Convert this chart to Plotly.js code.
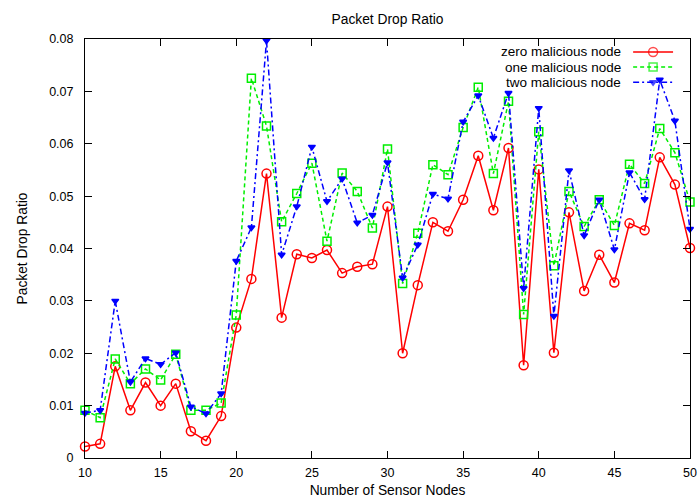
<!DOCTYPE html>
<html>
<head>
<meta charset="utf-8">
<script src="https://cdn.plot.ly/plotly-3.0.1.min.js"></script>
<style>
  html, body { margin: 0; padding: 0; background: #fff; }
  #chart { width: 700px; height: 501px; }
</style>
</head>
<body>
<div id="chart"></div>
<script>
// Number of sensor nodes on the x axis
const nodes = [10, 11, 12, 13, 14, 15, 16, 17, 18, 19, 20, 21, 22, 23, 24, 25, 26, 27, 28, 29, 30,
               31, 32, 33, 34, 35, 36, 37, 38, 39, 40, 41, 42, 43, 44, 45, 46, 47, 48, 49, 50];

// Packet drop ratio, no malicious node
const zeroMalicious = [0.0022, 0.0027, 0.0175, 0.0091, 0.0144, 0.0100, 0.0142, 0.0051, 0.0033, 0.0080, 0.0249,
                       0.0342, 0.0543, 0.0268, 0.0389, 0.0382, 0.0397, 0.0353, 0.0365, 0.0370, 0.0480,
                       0.0200, 0.0330, 0.0450, 0.0433, 0.0493, 0.0577, 0.0473, 0.0592, 0.0177, 0.0551,
                       0.0201, 0.0469, 0.0319, 0.0388, 0.0335, 0.0448, 0.0435, 0.0574, 0.0522, 0.0401];

// Packet drop ratio, one malicious node
const oneMalicious = [0.0091, 0.0077, 0.0189, 0.0142, 0.0170, 0.0149, 0.0198, 0.0091, 0.0091, 0.0105, 0.0273,
                      0.0725, 0.0634, 0.0451, 0.0505, 0.0563, 0.0414, 0.0544, 0.0509, 0.0439, 0.0590,
                      0.0333, 0.0429, 0.0560, 0.0541, 0.0631, 0.0708, 0.0543, 0.0681, 0.0274, 0.0623,
                      0.0367, 0.0509, 0.0442, 0.0493, 0.0444, 0.0561, 0.0524, 0.0629, 0.0583, 0.0489];

// Packet drop ratio, two malicious nodes
const twoMalicious = [0.0086, 0.0091, 0.0300, 0.0145, 0.0190, 0.0179, 0.0201, 0.0098, 0.0085, 0.0123, 0.0376,
                      0.0440, 0.0797, 0.0388, 0.0480, 0.0594, 0.0490, 0.0533, 0.0449, 0.0464, 0.0564,
                      0.0344, 0.0407, 0.0504, 0.0495, 0.0642, 0.0692, 0.0611, 0.0697, 0.0324, 0.0668,
                      0.0271, 0.0549, 0.0425, 0.0493, 0.0398, 0.0545, 0.0494, 0.0722, 0.0644, 0.0437];

const seriesNames = ['zero malicious node', 'one malicious node', 'two malicious node'];

const FONT = 'Liberation Sans, Arial, Helvetica, sans-serif';

const styles = [
  { color: '#ff0000', dash: 'solid',   symbol: 'circle-open',   size: 9 },
  { color: '#00ee00', dash: '4px,3px', symbol: 'square-open',   size: 8 },
  { color: '#0000ff', dash: '6px,3px,2px,3px', symbol: 'triangle-down', size: 6 }
];

const seriesData = [zeroMalicious, oneMalicious, twoMalicious];

const traces = seriesData.map((vals, i) => ({
  type: 'scatter',
  mode: 'lines+markers',
  x: nodes,
  y: vals,
  name: seriesNames[i],
  line: { color: styles[i].color, width: 1.5, dash: styles[i].dash },
  marker: { color: styles[i].color, symbol: styles[i].symbol, size: styles[i].size,
            line: { color: styles[i].color, width: 1.5 } },
  cliponaxis: false,
  showlegend: false
}));

// Key samples (line with a marker in the middle) on a hidden unit overlay axis
const keyRows = [0.969, 0.933, 0.897];
const keyX = [0.906, 0.939, 0.972];
keyRows.forEach((yy, i) => {
  traces.push({
    type: 'scatter',
    mode: 'lines+markers',
    x: keyX,
    y: [yy, yy, yy],
    xaxis: 'x2',
    yaxis: 'y2',
    line: { color: styles[i].color, width: 1.5, dash: styles[i].dash },
    marker: { color: styles[i].color, symbol: styles[i].symbol, size: [0, styles[i].size, 0],
              line: { color: styles[i].color, width: 1.5 } },
    hoverinfo: 'skip',
    showlegend: false
  });
});

const annotations = seriesNames.map((name, i) => ({
  xref: 'paper', yref: 'paper',
  x: 0.889, y: keyRows[i],
  xanchor: 'right', yanchor: 'middle',
  text: name,
  showarrow: false,
  font: { family: FONT, size: 13.5, color: '#000' }
}));

const layout = {
  width: 700,
  height: 501,
  margin: { l: 85, r: 10, t: 39, b: 43 },
  paper_bgcolor: '#fff',
  plot_bgcolor: '#fff',
  font: { family: FONT, size: 12, color: '#000' },
  showlegend: false,
  title: {
    text: 'Packet Drop Ratio',
    x: 0.5, xref: 'paper', xanchor: 'center',
    y: 0.962, yref: 'container', yanchor: 'middle',
    font: { family: FONT, size: 13.8, color: '#000' }
  },
  xaxis: {
    range: [10, 50],
    tickvals: [10, 15, 20, 25, 30, 35, 40, 45, 50],
    ticks: 'inside', ticklen: 7, tickcolor: '#000', tickwidth: 1,
    showline: true, linecolor: '#000', linewidth: 1, mirror: 'ticks',
    showgrid: false, zeroline: false,
    ticklabelstandoff: 3,
    tickfont: { family: FONT, size: 12.5 },
    title: { text: 'Number of Sensor Nodes', standoff: 6, font: { family: FONT, size: 13.8 } }
  },
  yaxis: {
    range: [0, 0.08],
    tickvals: [0, 0.01, 0.02, 0.03, 0.04, 0.05, 0.06, 0.07, 0.08],
    ticktext: ['0', '0.01', '0.02', '0.03', '0.04', '0.05', '0.06', '0.07', '0.08'],
    ticks: 'inside', ticklen: 7, tickcolor: '#000', tickwidth: 1,
    showline: true, linecolor: '#000', linewidth: 1, mirror: 'ticks',
    showgrid: false, zeroline: false,
    ticklabelstandoff: 8,
    tickfont: { family: FONT, size: 12.5 },
    title: { text: 'Packet Drop Ratio', standoff: 18, font: { family: FONT, size: 13.8 } }
  },
  xaxis2: { overlaying: 'x', range: [0, 1], visible: false, fixedrange: true },
  yaxis2: { overlaying: 'y', range: [0, 1], visible: false, fixedrange: true },
  annotations: annotations
};

Plotly.newPlot('chart', traces, layout, { displayModeBar: false, staticPlot: true });
</script>
</body>
</html>
